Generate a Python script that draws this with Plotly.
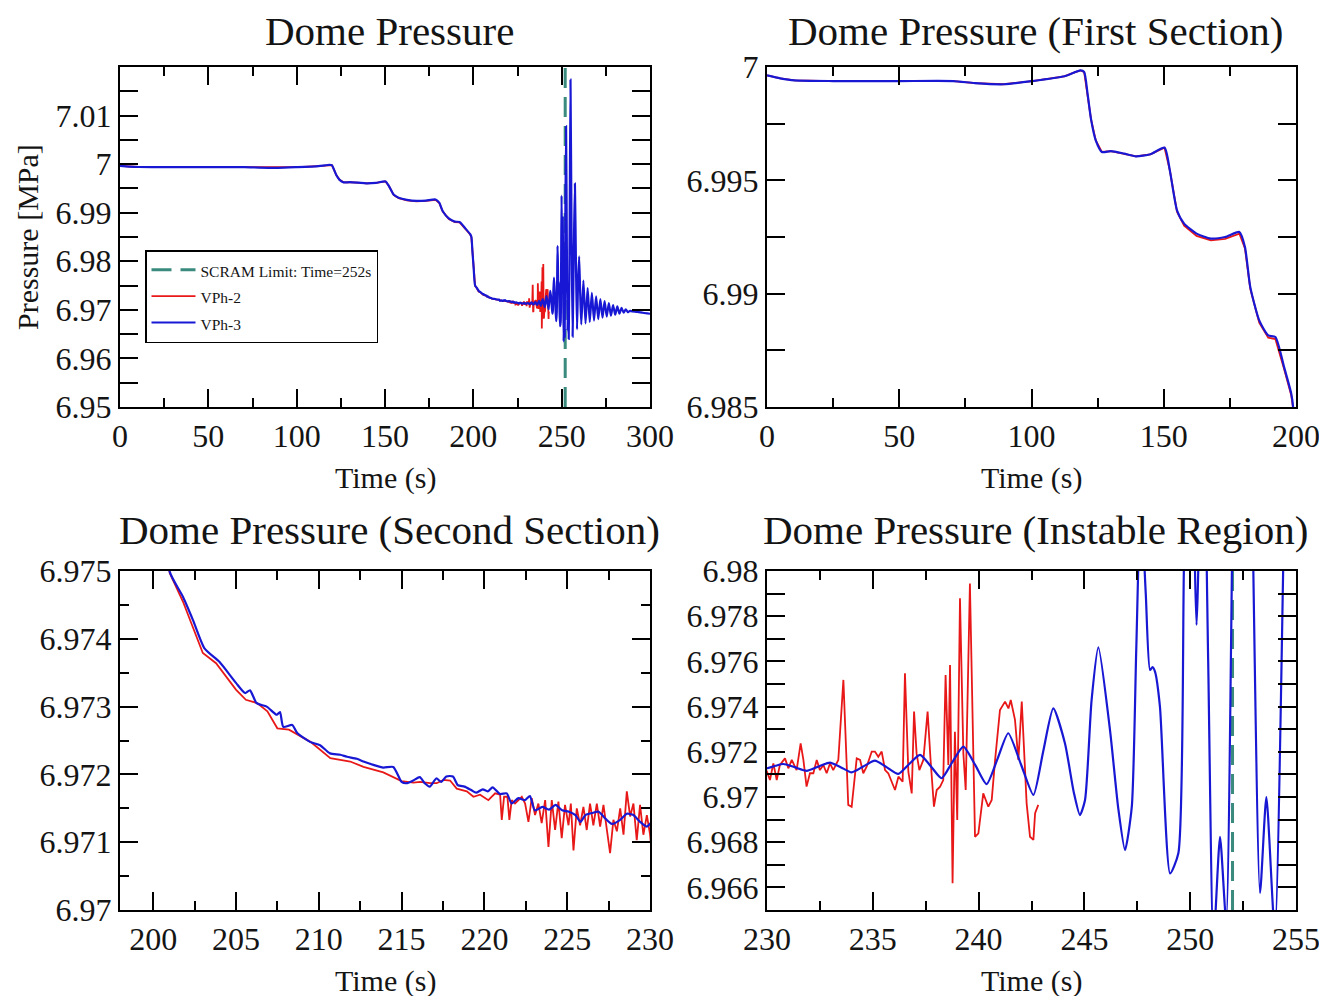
import plotly.graph_objects as go

# ---------------- data ----------------
SCRAM_TIME = 252

# Section 1: 0 - 200.6 s (same time base for both codes)
T_SECTION1 = [0, 5, 10.4, 25, 50, 70.5, 78.6, 89.5, 100.3, 112.4,
              116, 118.5, 119.9, 121.2, 122.5, 124.3, 126.6, 130, 135, 139.5,
              144.9, 150.3, 152.3, 155, 157.7, 162.4, 167.8, 173.2, 178.6, 180.7,
              182.7, 186.1, 189.5, 192.2, 195.5, 198.2, 198.9, 199.5, 200.2, 200.6]
VPH3_SECTION1 = [6.99963, 6.99950, 6.99941, 6.99938, 6.99938, 6.99938, 6.99929, 6.99924, 6.99938, 6.99959,
                 6.99975, 6.99985, 6.99978, 6.99882, 6.99770, 6.99676, 6.99625, 6.99629, 6.99618, 6.99606,
                 6.99615, 6.99644, 6.99544, 6.99368, 6.99309, 6.99265, 6.99243, 6.99250, 6.99272, 6.99206,
                 6.99030, 6.98882, 6.98816, 6.98809, 6.98676, 6.98559, 6.98500, 6.98200, 6.97850, 6.97620]
VPH2_SECTION1 = [6.99963, 6.99950, 6.99941, 6.99938, 6.99938, 6.99938, 6.99929, 6.99924, 6.99938, 6.99959,
                 6.99975, 6.99985, 6.99978, 6.99882, 6.99770, 6.99676, 6.99625, 6.99629, 6.99618, 6.99606,
                 6.99615, 6.99644, 6.99544, 6.99362, 6.99300, 6.99255, 6.99235, 6.99242, 6.99265, 6.99200,
                 6.99022, 6.98872, 6.98806, 6.98800, 6.98668, 6.98552, 6.98495, 6.98190, 6.97840, 6.97610]

# Section 2: 201 - 230 s
T_SECTION2_VPH3 = [201.0, 201.8, 202.4, 203.1, 204.0, 205.0, 205.55, 205.85, 206.25, 206.86,
                   207.46, 207.66, 207.86, 208.4, 208.7, 209.47, 210.08, 210.68, 211.3, 211.7,
                   212.3, 212.7, 213.3, 213.9, 214.5, 215.0, 215.3, 215.7, 216.1, 216.4,
                   216.7, 217.1, 217.4, 217.7, 218.1, 218.4, 218.8, 219.2, 219.5, 219.9,
                   220.2, 220.5, 220.95, 221.35, 221.65, 222.05, 222.45, 222.75, 223.05, 223.5,
                   223.9, 224.3, 224.7, 225.1, 225.5, 225.8, 226.1, 226.5, 226.9, 227.3,
                   227.7, 228.2, 228.6, 229.0, 229.4, 229.8]
VPH3_SECTION2 = [6.97499, 6.97462, 6.97428, 6.97386, 6.97366, 6.97335, 6.97320, 6.97324, 6.97305, 6.97300,
                 6.97288, 6.97292, 6.97270, 6.97273, 6.97261, 6.97248, 6.97243, 6.97231, 6.97229, 6.97226,
                 6.97223, 6.97219, 6.97214, 6.97210, 6.97211, 6.97189, 6.97187, 6.97191, 6.97196, 6.97187,
                 6.97182, 6.97194, 6.97189, 6.97197, 6.97197, 6.97184, 6.97182, 6.97177, 6.97173, 6.97178,
                 6.97175, 6.97181, 6.97171, 6.97172, 6.97157, 6.97165, 6.97162, 6.97168, 6.97147, 6.97152,
                 6.97148, 6.97155, 6.97147, 6.97145, 6.97140, 6.97130, 6.97140, 6.97143, 6.97145, 6.97135,
                 6.97127, 6.97133, 6.97142, 6.97140, 6.97130, 6.97123]
T_SECTION2_VPH2 = [201.0, 201.8, 203.0, 203.8, 205.0, 205.6, 206.3, 206.9, 207.5, 208.2,
                   209.5, 210.7, 211.9, 212.7, 213.9, 215.0, 215.72, 216.12, 216.72, 217.12,
                   217.53, 217.93, 218.33, 218.94, 219.34, 219.74, 220.24, 220.65, 220.95, 221.05,
                   221.19, 221.39, 221.51, 221.65, 221.85, 222.06, 222.26, 222.46, 222.66, 222.86,
                   223.06, 223.26, 223.46, 223.67, 223.87, 224.07, 224.27, 224.47, 224.67, 224.87,
                   225.08, 225.22, 225.38, 225.58, 225.78, 225.98, 226.18, 226.38, 226.58, 226.79,
                   226.99, 227.19, 227.39, 227.59, 227.79, 228.0, 228.2, 228.4, 228.6, 228.8,
                   229.0, 229.2, 229.4, 229.6, 229.81]
VPH2_SECTION2 = [6.97497, 6.97455, 6.97379, 6.97364, 6.97325, 6.97310, 6.97305, 6.97293, 6.97268, 6.97266,
                 6.97248, 6.97224, 6.97219, 6.97211, 6.97203, 6.97190, 6.97188, 6.97189, 6.97187, 6.97187,
                 6.97192, 6.97191, 6.97179, 6.97175, 6.97167, 6.97170, 6.97162, 6.97172, 6.97170, 6.97133,
                 6.97167, 6.97167, 6.97133, 6.97162, 6.97157, 6.97162, 6.97167, 6.97157, 6.97130, 6.97165,
                 6.97140, 6.97157, 6.97128, 6.97162, 6.97093, 6.97162, 6.97118, 6.97160, 6.97106, 6.97155,
                 6.97125, 6.97157, 6.97088, 6.97150, 6.97125, 6.97152, 6.97118, 6.97157, 6.97125, 6.97157,
                 6.97123, 6.97155, 6.97120, 6.97084, 6.97133, 6.97116, 6.97150, 6.97111, 6.97175, 6.97138,
                 6.97157, 6.97103, 6.97155, 6.97111, 6.97140]

# Section 3: 230 s onwards (instable region)
T_SECTION3_VPH2 = [230.0, 230.14, 230.30, 230.46, 230.61, 230.85, 231.01, 231.17, 231.40, 231.59,
                   231.72, 231.87, 232.03, 232.19, 232.35, 232.50, 232.66, 232.82, 232.98, 233.13,
                   233.37, 233.61, 233.84, 234.00, 234.24, 234.40, 234.55, 234.71, 234.95, 235.10,
                   235.26, 235.42, 235.58, 235.73, 235.89, 236.05, 236.21, 236.41, 236.52, 236.68,
                   236.84, 236.95, 237.07, 237.20, 237.39, 237.59, 237.73, 237.89, 238.02, 238.18,
                   238.33, 238.44, 238.57, 238.65, 238.77, 238.88, 238.99, 239.12, 239.28, 239.39,
                   239.59, 239.75, 239.83, 239.99, 240.22, 240.46, 240.62, 240.78, 241.01, 241.25,
                   241.41, 241.52, 241.72, 241.88, 242.04, 242.27, 242.43, 242.59, 242.67, 242.82]
VPH2_SECTION3 = [6.97112, 6.97075, 6.97149, 6.97075, 6.97142, 6.97171, 6.97127, 6.97164, 6.97119, 6.97237,
                 6.97164, 6.97046, 6.97105, 6.97105, 6.97164, 6.97119, 6.97142, 6.97105, 6.97149, 6.97119,
                 6.97164, 6.97518, 6.96965, 6.96957, 6.97171, 6.97164, 6.97105, 6.97134, 6.97201, 6.97201,
                 6.97178, 6.97201, 6.97119, 6.97105, 6.97068, 6.97031, 6.97090, 6.97068, 6.97547, 6.97112,
                 6.97016, 6.97378, 6.97193, 6.97119, 6.97164, 6.97378, 6.97164, 6.96957, 6.97031, 6.97046,
                 6.97075, 6.97540, 6.97142, 6.97584, 6.96618, 6.97289, 6.96898, 6.97879, 6.97193, 6.97031,
                 6.97945, 6.97223, 6.96824, 6.96839, 6.97016, 6.96957, 6.96987, 6.97164, 6.97385, 6.97422,
                 6.97392, 6.97429, 6.97341, 6.97164, 6.97422, 6.96972, 6.96824, 6.96810, 6.96928, 6.96965]
T_SECTION3_VPH3 = [230.0, 230.4, 230.77, 231.3, 231.88, 232.4, 232.98, 233.5, 234.0, 234.55,
                   235.1, 235.65, 236.2, 236.7, 237.23, 237.75, 238.25, 238.75, 239.28, 239.85,
                   240.38, 240.9, 241.4, 242.0, 242.59, 243.05, 243.53, 244.08, 244.5, 244.79,
                   245.03, 245.34, 245.66, 246.21, 246.6, 246.92, 247.24, 247.45, 247.66, 247.9,
                   248.1, 248.22, 248.34, 248.57, 249.05, 249.44, 249.7, 249.95, 250.3, 250.6,
                   250.85, 251.1, 251.41, 251.7, 252.1, 252.5, 252.9, 253.3, 253.6, 254.0,
                   254.5, 255.0, 255.6, 256.2, 256.9, 257.5, 258.1, 258.7, 259.3, 259.9,
                   260.5, 261.1, 262.3, 263.5, 264.7, 265.9, 267.1, 268.3, 269.5, 270.7,
                   271.9, 273.1, 274.3, 275.5, 276.7, 277.9, 279.1, 280.3, 281.5, 282.7,
                   283.9, 285.1, 286.3, 287.5, 288.7, 290.0, 293.0, 296.0, 300.0]
VPH3_SECTION3 = [6.97127, 6.97138, 6.97146, 6.97132, 6.97116, 6.97134, 6.97152, 6.97131, 6.97109, 6.97135,
                 6.97161, 6.97132, 6.97102, 6.97144, 6.97186, 6.97135, 6.97083, 6.97153, 6.97223, 6.97140,
                 6.97057, 6.97170, 6.97282, 6.97145, 6.97009, 6.97200, 6.97392, 6.97238, 6.97020, 6.96920,
                 6.96987, 6.97429, 6.97662, 6.97296, 6.96950, 6.96765, 6.96957, 6.97650, 6.98320, 6.97900,
                 6.97562, 6.97575, 6.97554, 6.97400, 6.96662, 6.96751, 6.98000, 6.99350, 6.97761, 6.98900,
                 6.97600, 6.96350, 6.96824, 6.96450, 6.99000, 7.00780, 6.98500, 6.96575, 6.97000, 6.96400,
                 6.98600, 7.01740, 6.98500, 6.96450, 6.98300, 6.99600, 6.97900, 6.96600, 6.97600, 6.98100,
                 6.97300, 6.96700, 6.97600, 6.96720, 6.97450, 6.96750, 6.97350, 6.96780, 6.97280, 6.96810,
                 6.97220, 6.96840, 6.97180, 6.96860, 6.97140, 6.96880, 6.97100, 6.96900, 6.97070, 6.96920,
                 6.97040, 6.96940, 6.97010, 6.96950, 6.96980, 6.96970, 6.96960, 6.96940, 6.96920]

# panel titles / axis ranges / tick labels
PANEL_TITLES = ["Dome Pressure", "Dome Pressure (First Section)",
                "Dome Pressure (Second Section)", "Dome Pressure (Instable Region)"]
X_RANGES = [[0, 300], [0, 200], [198, 230], [230, 255]]
Y_RANGES = [[6.95, 7.02], [6.985, 7.0], [6.97, 6.975], [6.965, 6.98]]
X_TICKS = [[0, 50, 100, 150, 200, 250, 300],
           [0, 50, 100, 150, 200],
           [200, 205, 210, 215, 220, 225, 230],
           [230, 235, 240, 245, 250, 255]]
X_MINOR = [25, 25, 2.5, 2.5]
Y_TICKS = [[6.95, 6.96, 6.97, 6.98, 6.99, 7.0, 7.01],
           [6.985, 6.99, 6.995, 7.0],
           [6.97, 6.971, 6.972, 6.973, 6.974, 6.975],
           [6.966, 6.968, 6.97, 6.972, 6.974, 6.976, 6.978, 6.98]]
Y_TICKTEXT = [["6.95", "6.96", "6.97", "6.98", "6.99", "7", "7.01"],
              ["6.985", "6.99", "6.995", "7"],
              ["6.97", "6.971", "6.972", "6.973", "6.974", "6.975"],
              ["6.966", "6.968", "6.97", "6.972", "6.974", "6.976", "6.978", "6.98"]]
Y_MINOR = [0.005, 0.0025, 0.0005, 0.001]
Y_MINOR_FULL = [True, True, False, True]   # minor y ticks as long as major ones
SCRAM_PANELS = [0, 3]

# ---------------- assemble series ----------------
T_VPH3 = T_SECTION1 + T_SECTION2_VPH3 + T_SECTION3_VPH3
P_VPH3 = VPH3_SECTION1 + VPH3_SECTION2 + VPH3_SECTION3
T_VPH2 = T_SECTION1 + T_SECTION2_VPH2 + T_SECTION3_VPH2
P_VPH2 = VPH2_SECTION1 + VPH2_SECTION2 + VPH2_SECTION3
assert len(T_VPH3) == len(P_VPH3) and len(T_VPH2) == len(P_VPH2)

FONT = "Liberation Serif"
TXT = "#141414"
RED = "#e81818"
BLUE = "#1818d4"
TEAL = "#3a8a7e"
OFF = 8                 # page body margin of the html page
W, H = 1327 - OFF, 996 - OFF

# plot frames in screen pixels (left, right, top, bottom)
FRAMES = [(120, 650, 67, 407), (767, 1296, 67, 407),
          (120, 650, 571, 910), (767, 1296, 571, 910)]


def px_x(p):
    return (p - OFF) / W


def px_y(p):
    return 1 - (p - OFF) / H


def legend_name(s):
    return f'<span style="font-size:15.5px">{s}</span>'


fig = go.Figure()
for i in range(4):
    xa = "x" if i == 0 else f"x{i+1}"
    ya = "y" if i == 0 else f"y{i+1}"
    first = i == 0
    if i in SCRAM_PANELS:
        fig.add_trace(go.Scatter(
            x=[SCRAM_TIME, SCRAM_TIME], y=Y_RANGES[i], mode="lines",
            line=dict(color=TEAL, width=3, dash="20px,9px"),
            name=legend_name(f"SCRAM Limit: Time={SCRAM_TIME}s"),
            legendgroup="scram", showlegend=first, xaxis=xa, yaxis=ya))
    fig.add_trace(go.Scatter(
        x=T_VPH2, y=P_VPH2, mode="lines", line=dict(color=RED, width=1.8),
        name=legend_name("VPh-2"), legendgroup="vph2",
        showlegend=first, xaxis=xa, yaxis=ya))
    fig.add_trace(go.Scatter(
        x=T_VPH3, y=P_VPH3, mode="lines",
        line=dict(color=BLUE, width=2.2, shape="spline", smoothing=0.6),
        name=legend_name("VPh-3"), legendgroup="vph3",
        showlegend=first, xaxis=xa, yaxis=ya))

layout = dict(
    width=W, height=H, margin=dict(l=0, r=0, t=0, b=0),
    paper_bgcolor="white", plot_bgcolor="white",
    font=dict(family=FONT, color=TXT),
    showlegend=True,
    legend=dict(x=px_x(145), y=px_y(250), xanchor="left", yanchor="top",
                bgcolor="white", bordercolor="black", borderwidth=1.5,
                font=dict(family=FONT, size=18, color=TXT), itemwidth=44,
                traceorder="normal"),
)

annotations = []
for i in range(4):
    l, r, t, b = FRAMES[i]
    sx = "" if i == 0 else str(i + 1)
    common = dict(showline=True, linecolor="black", linewidth=2, mirror="allticks",
                  ticks="inside", tickwidth=2, tickcolor="black", ticklen=18,
                  showgrid=False, zeroline=False, automargin=False,
                  tickfont=dict(family=FONT, size=32, color=TXT))
    layout["xaxis" + sx] = dict(
        common, domain=[px_x(l), px_x(r)], range=X_RANGES[i],
        anchor="y" + sx, tickmode="array", tickvals=X_TICKS[i],
        ticktext=[str(v) for v in X_TICKS[i]],
        minor=dict(ticks="inside", ticklen=9, tickwidth=2, tickcolor="black",
                   tickmode="linear", tick0=0, dtick=X_MINOR[i], showgrid=False))
    layout["yaxis" + sx] = dict(
        common, domain=[px_y(b), px_y(t)], range=Y_RANGES[i],
        anchor="x" + sx, tickmode="array", tickvals=Y_TICKS[i], ticktext=Y_TICKTEXT[i],
        minor=dict(ticks="inside", ticklen=18 if Y_MINOR_FULL[i] else 9, tickwidth=2,
                   tickcolor="black", tickmode="linear", tick0=Y_RANGES[i][0],
                   dtick=Y_MINOR[i], showgrid=False))
    # panel title
    title_y = 31 if i < 2 else 530
    annotations.append(dict(text=PANEL_TITLES[i], x=px_x((l + r) / 2 + 4), y=px_y(title_y),
                            xref="paper", yref="paper", showarrow=False,
                            xanchor="center", yanchor="middle",
                            font=dict(family=FONT, size=41, color=TXT)))
    # x axis title
    annotations.append(dict(text="Time (s)", x=px_x((l + r) / 2), y=px_y(b + 71),
                            xref="paper", yref="paper", showarrow=False,
                            xanchor="center", yanchor="middle",
                            font=dict(family=FONT, size=30, color=TXT)))

annotations.append(dict(text="Pressure [MPa]", x=px_x(27), y=px_y(237), textangle=-90,
                        xref="paper", yref="paper", showarrow=False,
                        xanchor="center", yanchor="middle",
                        font=dict(family=FONT, size=30, color=TXT)))
layout["annotations"] = annotations

fig.update_layout(**layout)
fig.write_html("out.html")
